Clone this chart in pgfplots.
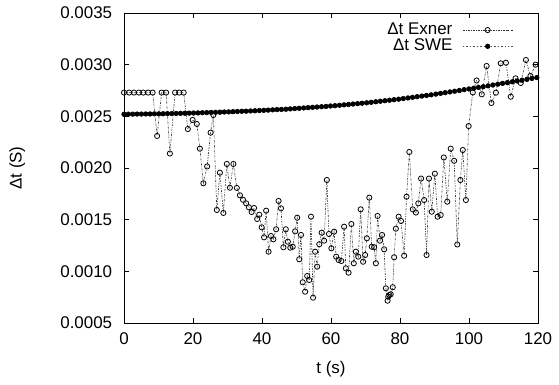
\documentclass[border=0pt]{standalone}
\usepackage{pgfplots}
\pgfplotsset{compat=1.18}
\usepackage{fontspec}
\setmainfont{Liberation Sans}
\begin{document}
\fontsize{17}{20}\selectfont
\begin{tikzpicture}[x=1bp,y=1bp]
\path (-124bp,-62bp) rectangle (435bp,323bp);
\begin{axis}[
  at={(0,0)}, anchor=origin,
  scale only axis,
  width=414bp, height=310bp,
  xmin=0, xmax=120, ymin=0.0005, ymax=0.0035,
  xtick={0,20,...,120},
  ytick={0.0005,0.0010,...,0.0035},
  tick align=inside,
  major tick length=5bp,
  tick style={black, line width=0.6pt},
  axis line style={black, line width=0.9pt},
  yticklabel style={/pgf/number format/fixed, /pgf/number format/fixed zerofill, /pgf/number format/precision=4, xshift=-6bp},
  xticklabel style={yshift=-4bp},
  scaled y ticks=false,
  /pgf/number format/assume math mode=true,
  xlabel={t (s)}, ylabel={Δt (S)},
  every axis x label/.style={at={(axis description cs:0.5,-0.148)}, anchor=center},
  every axis y label/.style={at={(axis description cs:-0.258,0.5)}, rotate=90, anchor=center},
  legend style={draw=none, fill=none, inner sep=0pt, at={(0.94,0.975)}, anchor=north east, font=\fontsize{17}{20}\selectfont, row sep=-2bp, column sep=8bp},
  legend cell align=right,
  legend plot pos=right,
  legend image code/.code={\draw[mark repeat=2,mark phase=2,#1] plot coordinates {(0bp,0bp) (25bp,0bp) (50bp,0bp)};},
]
\addplot[black!80, line width=0.6pt, dash pattern=on 2pt off 1.2pt on 0.6pt off 1.2pt,
  mark=o, mark size=2.6bp, mark options={solid, black, line width=0.8pt}] coordinates {
(0.0,0.00273)(1.5,0.00273)(2.9,0.00273)(4.3,0.00273)(5.6,0.00273)(7.0,0.00273)(8.3,0.00273)(9.6,0.00231)(10.9,0.00273)(12.2,0.00273)(13.3,0.00214)(14.8,0.00273)(16.0,0.00273)(17.3,0.00273)(18.5,0.002377)(19.9,0.002465)(21.1,0.002426)(22.0,0.002187)(23.0,0.001852)(24.1,0.002015)(25.1,0.002342)(25.9,0.002513)(26.9,0.001594)(27.8,0.001955)(28.8,0.001565)(29.8,0.002039)(30.7,0.001809)(31.7,0.002039)(32.7,0.001807)(33.6,0.001736)(34.5,0.001693)(35.4,0.001658)(36.2,0.001620)(37.0,0.001574)(37.7,0.001613)(38.6,0.001507)(39.2,0.001548)(39.9,0.001426)(40.6,0.001329)(41.2,0.001587)(41.9,0.001190)(42.6,0.001342)(43.3,0.001310)(44.1,0.001407)(44.8,0.001681)(45.5,0.001610)(46.2,0.001233)(46.9,0.001407)(47.5,0.001287)(48.2,0.001229)(48.9,0.001238)(49.6,0.001387)(50.2,0.001519)(50.8,0.001117)(51.3,0.001352)(51.8,0.000894)(52.5,0.000803)(53.1,0.000955)(53.7,0.000916)(54.2,0.001529)(54.8,0.000745)(55.4,0.001190)(56.0,0.001045)(56.6,0.001262)(57.3,0.001374)(58.0,0.001297)(58.8,0.001884)(59.4,0.001361)(60.1,0.001223)(60.9,0.001384)(61.5,0.001142)(62.2,0.001110)(63.0,0.001100)(63.8,0.001432)(64.3,0.001029)(65.1,0.000987)(65.9,0.001458)(66.6,0.001078)(67.2,0.001190)(67.9,0.001142)(68.6,0.001600)(69.3,0.001093)(69.9,0.001158)(70.4,0.001320)(71.1,0.001713)(71.8,0.001238)(72.5,0.001233)(73.0,0.001078)(73.5,0.001536)(74.2,0.001297)(74.8,0.001352)(75.4,0.001213)(75.9,0.000836)(76.4,0.000716)(76.6,0.000755)(76.9,0.000771)(77.3,0.000778)(77.9,0.000846)(78.3,0.001136)(78.8,0.001413)(79.6,0.001529)(80.3,0.001487)(81.2,0.001151)(81.9,0.001722)(82.7,0.002155)(83.7,0.001600)(84.6,0.001569)(85.3,0.001658)(86.1,0.001898)(87.0,0.001690)(87.7,0.001158)(88.4,0.001898)(89.2,0.001577)(90.1,0.001945)(90.9,0.001529)(91.8,0.001545)(92.7,0.002102)(93.7,0.001674)(94.7,0.002187)(95.7,0.002070)(96.6,0.001260)(97.5,0.001884)(98.2,0.002174)(99.1,0.001690)(99.9,0.002406)(101.1,0.002731)(102.2,0.002847)(103.7,0.002713)(105.1,0.002987)(106.5,0.002629)(107.8,0.002729)(109.2,0.003013)(110.7,0.003019)(112.1,0.002690)(113.5,0.002868)(115.0,0.002823)(116.5,0.003045)(117.8,0.002890)(119.3,0.003000)
};
\addlegendentry{Δt Exner}
\addplot[black!70, line width=0.6pt, dash pattern=on 1.5pt off 2pt,
  mark=*, mark size=2.3bp, mark options={solid, black}] coordinates {
(0,0.002520)(1.26,0.002521)(2.52,0.002521)(3.78,0.002522)(5.04,0.002522)(6.30,0.002523)(7.56,0.002523)(8.82,0.002524)(10.08,0.002524)(11.34,0.002525)(12.60,0.002526)(13.86,0.002527)(15.12,0.002528)(16.38,0.002529)(17.64,0.002530)(18.90,0.002531)(20.17,0.002532)(21.44,0.002533)(22.71,0.002535)(23.98,0.002536)(25.25,0.002538)(26.52,0.002539)(27.79,0.002540)(29.06,0.002542)(30.33,0.002543)(31.60,0.002545)(32.87,0.002547)(34.14,0.002549)(35.41,0.002550)(36.68,0.002552)(37.96,0.002554)(39.24,0.002556)(40.52,0.002558)(41.80,0.002560)(43.08,0.002563)(44.36,0.002565)(45.64,0.002567)(46.92,0.002569)(48.21,0.002572)(49.50,0.002575)(50.79,0.002578)(52.08,0.002581)(53.37,0.002584)(54.66,0.002587)(55.96,0.002590)(57.26,0.002593)(58.56,0.002596)(59.86,0.002600)(61.16,0.002603)(62.46,0.002607)(63.77,0.002611)(65.08,0.002615)(66.39,0.002619)(67.70,0.002623)(69.01,0.002627)(70.33,0.002631)(71.65,0.002636)(72.97,0.002641)(74.29,0.002646)(75.62,0.002651)(76.95,0.002656)(78.28,0.002661)(79.61,0.002666)(80.95,0.002672)(82.29,0.002678)(83.63,0.002684)(84.97,0.002690)(86.32,0.002696)(87.67,0.002702)(89.02,0.002708)(90.38,0.002715)(91.74,0.002722)(93.10,0.002729)(94.47,0.002736)(95.84,0.002743)(97.21,0.002750)(98.59,0.002758)(99.97,0.002765)(101.35,0.002772)(102.74,0.002780)(104.13,0.002787)(105.52,0.002795)(106.92,0.002803)(108.32,0.002811)(109.72,0.002819)(111.13,0.002826)(112.54,0.002834)(113.96,0.002842)(115.38,0.002850)(116.80,0.002858)(118.23,0.002867)(119.66,0.002875)
};
\addlegendentry{Δt SWE}
\end{axis}
\end{tikzpicture}
\end{document}
